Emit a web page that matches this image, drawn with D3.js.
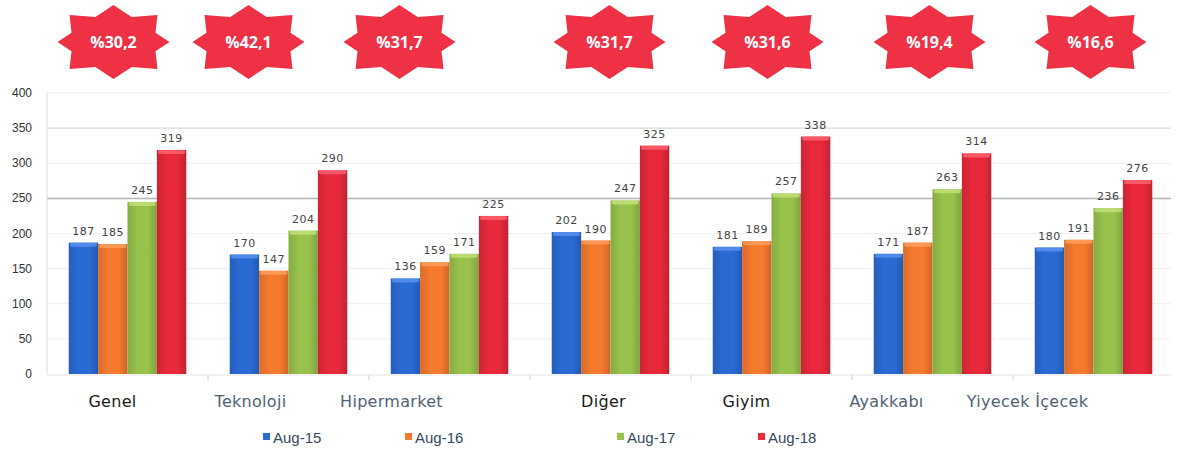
<!DOCTYPE html>
<html lang="tr">
<head>
  <meta charset="UTF-8">
  <title>Kategori bazında harcama endeksi</title>
  <script src="https://d3js.org/d3.v7.min.js"></script>
  <style>
    body { margin: 0; background: #fff; }
    svg { display: block; }
    .cat { font-family: "DejaVu Sans", sans-serif; font-size: 16px; letter-spacing: 0.3px; }
    .val { font-family: "DejaVu Sans", sans-serif; font-size: 11px; fill: #444; letter-spacing: 0.5px; }
    .ytick { font-family: "Liberation Sans Narrow", "Liberation Sans", sans-serif; font-size: 12px; fill: #333; }
    .leg { font-family: "Liberation Sans", sans-serif; font-size: 15px; fill: #34485c; }
    .badge { font-family: "Open Sans", sans-serif; font-weight: bold; font-size: 16px; fill: #fff; }
  </style>
</head>
<body>
  <svg id="chart" width="1181" height="459"></svg>

  <script>
    // data
    const categories = ["Genel", "Teknoloji", "Hipermarket", "Diğer", "Giyim", "Ayakkabı", "Yiyecek İçecek"];
    const series = ["Aug-15", "Aug-16", "Aug-17", "Aug-18"];
    const aug15 = [187, 170, 136, 202, 181, 171, 180];
    const aug16 = [185, 147, 159, 190, 189, 187, 191];
    const aug17 = [245, 204, 171, 247, 257, 263, 236];
    const aug18 = [319, 290, 225, 325, 338, 314, 276];
    const growth = ["%30,2", "%42,1", "%31,7", "%31,7", "%31,6", "%19,4", "%16,6"];
    const yTicks = [0, 50, 100, 150, 200, 250, 300, 350, 400];

    // layout tweaks (the labels/badges in the original don't sit exactly on the groups)
    const labelShift = [-15, -38, -58, -7, -25, -46, -66];
    const badgeShift = [-14, -40, -50, -1, -4, -3, -3];
    const legendX = [263, 405, 617, 758];
    const darkLabels = ["Genel", "Diğer", "Giyim"];

    const colors = ["#2a6bd3", "#f57a2e", "#98c24c", "#e8293b"];
    const light = ["#5a93f2", "#ffa062", "#c3e27c", "#ff6472"];

    const values = [aug15, aug16, aug17, aug18];
    const rows = categories.map((c, i) => ({ cat: c, i, vals: values.map(v => v[i]) }));

    const svg = d3.select("#chart");
    const margin = { top: 93, right: 7, bottom: 85, left: 47 };
    const W = 1181, H = 459;

    const x = d3.scaleBand()
      .domain(categories)
      .range([margin.left, W - margin.right])
      .paddingInner(0.27)
      .paddingOuter(0.135);

    const xs = d3.scaleBand()
      .domain(series)
      .range([0, x.bandwidth()]);

    const y = d3.scaleLinear()
      .domain([0, 400])
      .range([374, margin.top]);

    // gradients for a slightly rounded bar look
    const defs = svg.append("defs");
    colors.forEach((c, k) => {
      const g = defs.append("linearGradient").attr("id", "g" + k)
        .attr("x1", "0").attr("x2", "1").attr("y1", "0").attr("y2", "0");
      g.append("stop").attr("offset", "0%").attr("stop-color", d3.color(c).darker(0.35));
      g.append("stop").attr("offset", "35%").attr("stop-color", c);
      g.append("stop").attr("offset", "70%").attr("stop-color", c);
      g.append("stop").attr("offset", "100%").attr("stop-color", d3.color(c).darker(0.5));
    });

    // gridlines
    svg.append("g").selectAll("line")
      .data(yTicks.filter(d => d > 0))
      .enter().append("line")
      .attr("x1", margin.left).attr("x2", W - 10)
      .attr("y1", d => y(d)).attr("y2", d => y(d))
      .attr("stroke", d => d === 250 ? "#b5b5b5" : (d === 350 ? "#d2d2d2" : "#eeeeee"))
      .attr("stroke-width", d => d === 250 ? 1.5 : 1);

    // y axis
    svg.append("line")
      .attr("x1", margin.left).attr("x2", margin.left)
      .attr("y1", y(400)).attr("y2", y(0))
      .attr("stroke", "#dddddd");

    svg.append("g").selectAll("text")
      .data(yTicks)
      .enter().append("text")
      .attr("class", "ytick")
      .attr("x", 32)
      .attr("y", d => y(d) + 4)
      .attr("text-anchor", "end")
      .text(d => d);

    // x axis baseline and small ticks between groups
    svg.append("line")
      .attr("x1", margin.left).attr("x2", W - 10)
      .attr("y1", y(0) + 1).attr("y2", y(0) + 1)
      .attr("stroke", "#e4e4e4");

    svg.append("g").selectAll("line")
      .data(categories.slice(1))
      .enter().append("line")
      .attr("x1", d => x(d) - x.step() * 0.135)
      .attr("x2", d => x(d) - x.step() * 0.135)
      .attr("y1", y(0) + 1).attr("y2", y(0) + 6)
      .attr("stroke", "#cccccc");

    // bars
    const grp = svg.append("g").selectAll("g")
      .data(rows)
      .enter().append("g")
      .attr("transform", d => `translate(${x(d.cat)},0)`);

    grp.selectAll("rect.bar")
      .data(d => d.vals.map((v, k) => ({ v, k })))
      .enter().append("rect")
      .attr("class", "bar")
      .attr("x", d => xs(series[d.k]))
      .attr("width", xs.bandwidth())
      .attr("y", d => y(d.v))
      .attr("height", d => y(0) - y(d.v))
      .attr("fill", d => `url(#g${d.k})`);

    grp.selectAll("rect.cap")
      .data(d => d.vals.map((v, k) => ({ v, k })))
      .enter().append("rect")
      .attr("class", "cap")
      .attr("x", d => xs(series[d.k]) + 1)
      .attr("width", xs.bandwidth() - 2)
      .attr("y", d => y(d.v))
      .attr("height", 4)
      .attr("rx", 2)
      .attr("fill", d => light[d.k])
      .attr("opacity", 0.8);

    grp.selectAll("text.val")
      .data(d => d.vals.map((v, k) => ({ v, k })))
      .enter().append("text")
      .attr("class", "val")
      .attr("x", d => xs(series[d.k]) + xs.bandwidth() / 2)
      .attr("y", d => y(d.v) - 8)
      .attr("text-anchor", "middle")
      .text(d => d.v);

    // category labels
    svg.append("g").selectAll("text")
      .data(rows)
      .enter().append("text")
      .attr("class", "cat")
      .attr("x", d => x(d.cat) + x.bandwidth() / 2 + labelShift[d.i])
      .attr("y", 407)
      .attr("text-anchor", "middle")
      .attr("fill", d => darkLabels.includes(d.cat) ? "#1a1a1a" : "#506173")
      .text(d => d.cat);

    // growth badges: 8-point star = wide box with a diamond behind it
    const bx = 44, by = 27, dx = 56, dy = 37;
    const ix = dx * (1 - (by - 2) / dy), iy = dy * (1 - (bx - 2) / dx);
    const quarter = [[0, -dy], [ix, -(by - 2)], [bx, -by], [bx - 2, -iy], [dx, 0]];
    const starPts = [
      ...quarter,
      ...quarter.slice(1, 4).reverse().map(([a, b]) => [a, -b]),
      [0, dy],
      ...quarter.slice(1, 4).map(([a, b]) => [-a, -b]),
      [-dx, 0],
      ...quarter.slice(1, 4).reverse().map(([a, b]) => [-a, b])
    ];

    const badge = svg.append("g").selectAll("g")
      .data(rows)
      .enter().append("g")
      .attr("transform", d => `translate(${x(d.cat) + x.bandwidth() / 2 + badgeShift[d.i]},42)`);

    badge.append("polygon")
      .attr("points", starPts.map(p => p.join(",")).join(" "))
      .attr("fill", "#ee3145");

    badge.append("text")
      .attr("class", "badge")
      .attr("y", 6)
      .attr("text-anchor", "middle")
      .text(d => growth[d.i]);

    // legend
    const leg = svg.append("g").selectAll("g")
      .data(series)
      .enter().append("g")
      .attr("transform", (d, k) => `translate(${legendX[k]},438)`);

    leg.append("rect")
      .attr("x", 0).attr("y", -5)
      .attr("width", 7).attr("height", 7)
      .attr("fill", (d, k) => colors[k]);

    leg.append("text")
      .attr("class", "leg")
      .attr("x", 10)
      .attr("y", 5)
      .text(d => d);
  </script>
</body>
</html>
